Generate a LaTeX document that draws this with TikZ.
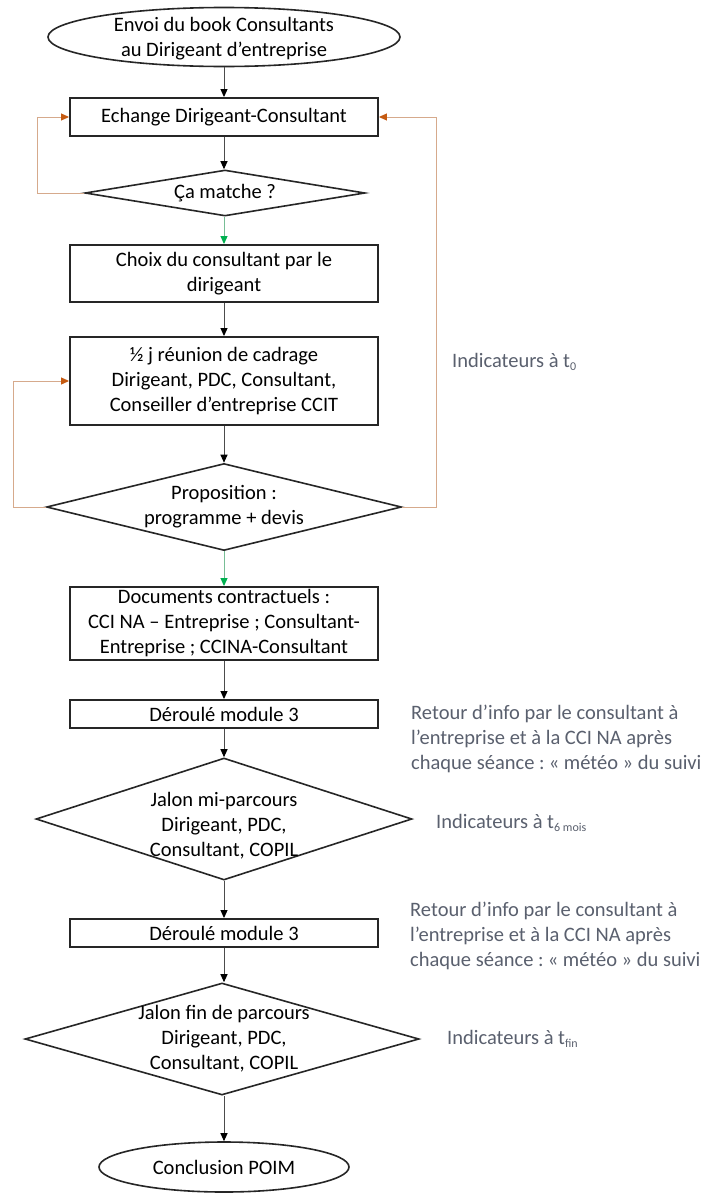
\documentclass[tikz,border=0pt]{standalone}
\usepackage{fontspec}
\setmainfont{Carlito}
\usetikzlibrary{shapes.geometric,arrows.meta}
\definecolor{orng}{RGB}{197,90,17}
\definecolor{orngline}{RGB}{214,170,140}
\definecolor{grn}{RGB}{0,176,80}
\definecolor{grnline}{RGB}{120,190,150}
\definecolor{notec}{RGB}{90,96,110}
\newcommand\subtx[1]{\raisebox{-0.35ex}{\fontsize{12}{12}\selectfont #1}}
\begin{document}
\begin{tikzpicture}[x=1pt,y=-1pt, font=\fontsize{20.5}{25}\selectfont,
 box/.style={draw=black!85, line width=1.9pt, minimum width=308pt, align=center, inner sep=0pt},
 dia/.style={draw=black!85, diamond, line width=1.6pt, inner sep=0pt},
 ell/.style={draw=black!85, ellipse, line width=1.6pt, inner sep=0pt},
 txt/.style={align=center, inner sep=0pt},
 notetxt/.style={text=notec, align=left, anchor=west, inner sep=0pt},
 arr/.style={draw=black!70, line width=1pt, -{Triangle[length=8pt,width=7pt,color=black]}},
 garr/.style={draw=grnline, line width=1pt, -{Triangle[length=8pt,width=7pt,color=grn]}},
 oarr/.style={draw=orngline, line width=1pt, -{Triangle[length=8pt,width=7pt,color=orng]}},
]
\fill[white] (0,0) rectangle (707,1194);
\useasboundingbox (0,0) rectangle (707,1194);

% nodes
\node[ell, minimum width=352pt, minimum height=59pt] (start) at (224,37) {};
\node[txt] at (224,38.5) {Envoi du book Consultants\\au Dirigeant d’entreprise};

\node[box, minimum height=38pt] (ech) at (224,117) {Echange Dirigeant-Consultant};

\node[dia, minimum width=280pt, minimum height=46pt] (match) at (225,193) {};
\node[txt] at (225,193) {Ça matche ?};

\node[box, minimum height=57pt] (choix) at (224,273.5) {Choix du consultant par le\\dirigeant};

\node[box, minimum height=88pt] (cad) at (224,381) {½ j réunion de cadrage\\Dirigeant, PDC, Consultant,\\Conseiller d’entreprise CCIT};

\node[dia, minimum width=355pt, minimum height=87pt] (prop) at (224,507) {};
\node[txt] at (224,507) {Proposition :\\programme + devis};

\node[box, minimum height=73pt] (docs) at (224,623.5) {Documents contractuels :\\CCI NA – Entreprise ; Consultant-\\Entreprise ; CCINA-Consultant};

\node[box, minimum height=28pt] (der1) at (224,714) {Déroulé module 3};

\node[dia, minimum width=376pt, minimum height=122pt] (jmi) at (224,819) {};
\node[txt] at (224,826) {Jalon mi-parcours\\Dirigeant, PDC,\\Consultant, COPIL};

\node[box, minimum height=28pt] (der2) at (224,933) {Déroulé module 3};

\node[dia, minimum width=394pt, minimum height=112pt] (jfin) at (222,1039) {};
\node[txt] at (224,1039) {Jalon fin de parcours\\Dirigeant, PDC,\\Consultant, COPIL};

\node[ell, minimum width=250pt, minimum height=50pt] (concl) at (224,1167) {};
\node[txt] at (224,1167) {Conclusion POIM};

% notes
\node[notetxt] (n0) at (452,362) {Indicateurs à t\subtx{0}};
\node[notetxt] (r1) at (411,739) {Retour d’info par le consultant à\\l’entreprise et à la CCI NA après\\chaque séance :\kern-2pt{} « météo » du suivi};
\node[notetxt] (n6) at (436,823) {Indicateurs à t\subtx{6 mois}};
\node[notetxt] (r2) at (410,936) {Retour d’info par le consultant à\\l’entreprise et à la CCI NA après\\chaque séance :\kern-2pt{} « météo » du suivi};
\node[notetxt] (nf) at (447,1039) {Indicateurs à t\subtx{fin}};

% main flow
\draw[arr] (start) -- (ech);
\draw[arr] (ech) -- (ech |- match.north);
\draw[garr] (match.south -| choix) -- (choix);
\draw[arr] (choix) -- (cad);
\draw[arr] (cad) -- (prop.north);
\draw[garr] (prop.south) -- (docs);
\draw[arr] (docs) -- (der1);
\draw[arr] (der1) -- (jmi.north);
\draw[arr] (jmi.south) -- (der2);
\draw[arr] (der2) -- (der2 |- jfin.north);
\draw[arr] (jfin.south -| concl) -- (concl);

% loops
\coordinate (l1) at (37,193);
\coordinate (l2) at (13,507);
\coordinate (l3) at (436,507);
\draw[oarr] (match.west) -- (l1) |- (ech.west);
\draw[oarr] (prop.west) -- (l2) |- (cad.west);
\draw[oarr] (prop.east) -- (l3) |- (ech.east);
\end{tikzpicture}
\end{document}
